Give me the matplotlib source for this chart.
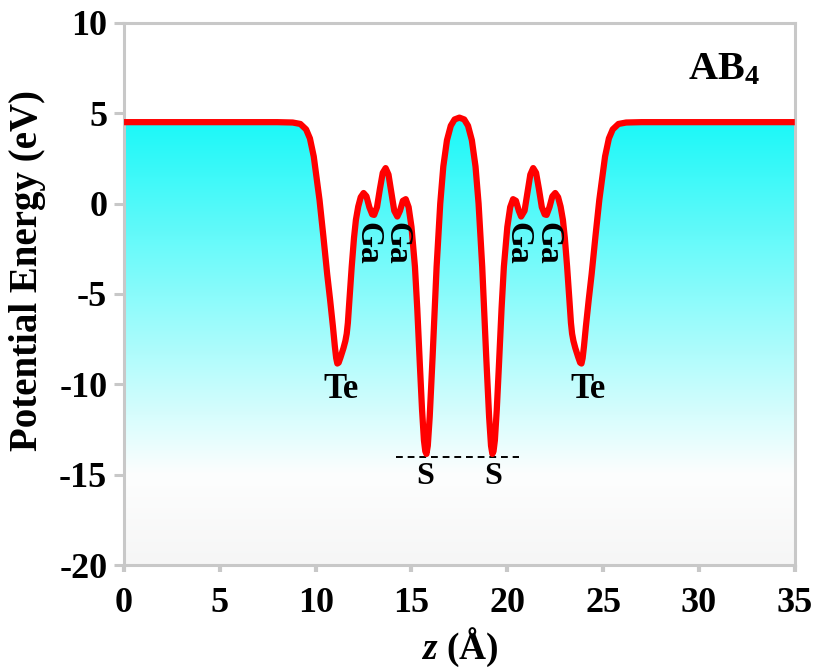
"""Electrostatic potential profile along z for the AB4 slab."""

import numpy as np
import matplotlib

matplotlib.use("Agg")
import matplotlib.pyplot as plt  # noqa: E402
from matplotlib.colors import LinearSegmentedColormap  # noqa: E402

plt.rcParams["font.family"] = ["Liberation Serif", "DejaVu Serif"]
plt.rcParams["font.weight"] = "bold"
plt.rcParams["mathtext.fontset"] = "custom"
plt.rcParams["mathtext.rm"] = "Liberation Serif:bold"
plt.rcParams["mathtext.it"] = "Liberation Serif:italic:bold"
plt.rcParams["mathtext.bf"] = "Liberation Serif:bold"

# potential (z in Angstrom, V in eV)
z = [
    0.0, 8.0, 8.8, 9.2, 9.5, 9.7, 9.9, 10.05, 10.2, 10.4, 10.6, 10.75, 10.9,
    11.0, 11.07, 11.13, 11.2, 11.3, 11.45, 11.55, 11.62, 11.68, 11.75, 11.88,
    12.0, 12.1, 12.22, 12.35,
    12.5, 12.65, 12.8, 12.95, 13.05, 13.2, 13.35, 13.5, 13.65, 13.8, 13.95,
    14.1, 14.26, 14.4, 14.55, 14.7, 14.85, 15.0, 15.18, 15.3, 15.44, 15.55,
    15.65, 15.72, 15.78, 15.85, 15.95, 16.1, 16.31, 16.5, 16.66, 16.85, 17.05,
    17.25, 17.5, 17.75, 17.95, 18.15, 18.34, 18.5, 18.69, 18.9, 19.05,
    19.15, 19.22, 19.28, 19.35, 19.45, 19.56, 19.7, 19.82, 20.0, 20.15, 20.3,
    20.45, 20.6, 20.72, 20.9, 21.05, 21.2, 21.35, 21.5, 21.65, 21.8, 21.95,
    22.05, 22.2, 22.35, 22.5, 22.65, 22.78, 22.9, 23.0, 23.12, 23.25, 23.32,
    23.38, 23.45, 23.55, 23.7, 23.8, 23.87, 23.93, 24.0, 24.1, 24.25, 24.4,
    24.6, 24.8, 24.95, 25.1, 25.3, 25.5, 25.8, 26.2, 27.0, 35.0,
]
V = [
    4.5, 4.5, 4.48, 4.4, 4.1, 3.6, 2.6, 1.4, 0.2, -1.8, -3.9, -5.3, -6.8,
    -7.9, -8.55, -8.85, -8.8, -8.5, -8.0, -7.6, -7.2, -6.6, -5.5, -3.5,
    -1.9, -0.9, -0.17, 0.35,
    0.58, 0.4, -0.2, -0.6, -0.63, -0.2, 0.8, 1.7, 1.96, 1.6, 0.6,
    -0.4, -0.72, -0.4, 0.15, 0.24, -0.2, -1.3, -3.5, -5.8, -9.0, -11.4,
    -13.1, -13.7, -13.85, -13.4, -11.8, -8.5, -3.5, 0.0, 2.05, 3.5, 4.3,
    4.65, 4.75, 4.65, 4.3, 3.5, 2.05, 0.0, -3.5, -8.5, -11.8,
    -13.4, -13.85, -13.7, -13.1, -11.4, -9.0, -5.8, -3.5, -1.3, -0.2, 0.24,
    0.15, -0.4, -0.72, -0.4, 0.6, 1.6, 1.96, 1.7, 0.8, -0.2, -0.6,
    -0.63, -0.2, 0.4, 0.58, 0.35, -0.17, -0.9, -1.9, -3.5, -5.5, -6.6,
    -7.2, -7.6, -8.0, -8.5, -8.8, -8.85, -8.55, -7.9, -6.8, -5.3, -3.9,
    -1.8, 0.2, 1.4, 2.6, 3.6, 4.1, 4.4, 4.48, 4.5, 4.5,
]

# reference level of the S wells
s_level = -14.0
s_level_span = (14.2, 20.6)

atom_names = ["Te", "S", "S", "Te"]
atom_z = [11.3, 15.7, 19.25, 24.2]
atom_v = [-10.3, -15.1, -15.1, -10.3]

ga_z = [12.7, 14.25, 20.55, 22.1]
ga_v = [-2.2, -2.2, -2.2, -2.2]

x_ticks = [0, 5, 10, 15, 20, 25, 30, 35]
y_ticks = [-20, -15, -10, -5, 0, 5, 10]

fig = plt.figure(figsize=(8.16, 6.68), dpi=100)
ax = fig.add_axes([0.152, 0.154, 0.822, 0.812])
ax.set_xlim(0, 35)
ax.set_ylim(-20, 10)

# cyan-to-white gradient clipped to the area under the curve
fill = ax.fill_between(z, V, -20, facecolor="none", edgecolor="none")
cmap = LinearSegmentedColormap.from_list(
    "cyanfade", [(0.0, "#f6f6f6"), (0.2, "#fdfefe"), (1.0, "#18f8f8")])
grad = np.linspace(1, 0, 256).reshape(-1, 1)
img = ax.imshow(grad, cmap=cmap, aspect="auto", extent=[0, 35, -20, 4.8],
                origin="upper", zorder=1)
img.set_clip_path(fill.get_paths()[0], transform=ax.transData)

ax.plot(z, V, color="#ff0000", linewidth=4.5, solid_joinstyle="round",
        solid_capstyle="butt", zorder=3)
ax.hlines(s_level, *s_level_span, colors="black", linewidth=1.4,
          linestyles=(0, (3.5, 2.5)), zorder=2)

for name, xv, yv in zip(atom_names, atom_z, atom_v):
    size = 25 if name == "Te" else 23
    ax.text(xv, yv, name, fontsize=size, fontweight="bold", ha="center",
            va="center", zorder=4)
for xv, yv in zip(ga_z, ga_v):
    ax.text(xv, yv, "Ga", fontsize=24, fontweight="bold", rotation=-90,
            ha="center", va="center", zorder=4)

ax.text(33.2, 7.4, "AB$_4$", fontsize=29, fontweight="bold", ha="right",
        va="center")

ax.set_xticks(x_ticks)
ax.set_yticks(y_ticks)
ax.set_xticklabels([str(t) for t in x_ticks])
ax.set_yticklabels([str(t) for t in y_ticks])
ax.tick_params(axis="x", length=5, width=3, color="#c8c8c8", pad=11,
               labelsize=26)
ax.tick_params(axis="y", length=7, width=2.2, color="#c8c8c8", pad=5,
               labelsize=26)
for sp in ax.spines.values():
    sp.set_color("#c8c8c8")
    sp.set_linewidth(2.2)

ax.set_ylabel("Potential Energy (eV)", fontsize=28, fontweight="bold")
ax.yaxis.set_label_coords(-0.117, 0.544)
ax.set_xlabel("$z$ (Å)", fontsize=27, fontweight="bold")
ax.xaxis.set_label_coords(0.5, -0.112)

fig.savefig("out.png", dpi=100)
plt.close(fig)
